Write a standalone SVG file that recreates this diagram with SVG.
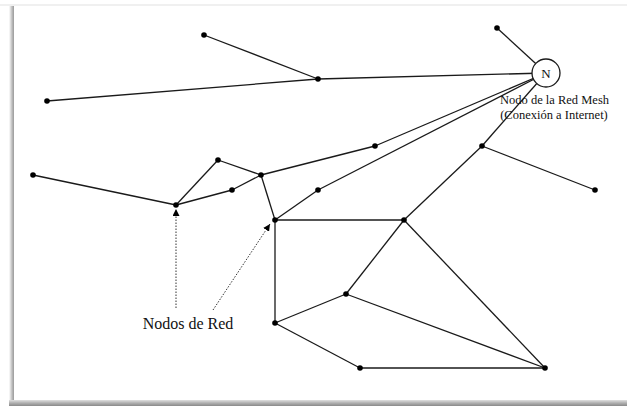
<svg xmlns="http://www.w3.org/2000/svg" width="627" height="406" viewBox="0 0 627 406">
<style>
.e{stroke:#1a1a1a;stroke-width:1.3;fill:none}
.n{fill:#000}
.t{font-family:"Liberation Serif","Times New Roman",serif;fill:#111}
.d{stroke:#333;stroke-width:1;stroke-dasharray:1.5 1.5;fill:none}
</style>
<defs>
<marker id="ah" viewBox="0 0 10 10" refX="10" refY="5" markerWidth="7" markerHeight="7" markerUnits="userSpaceOnUse" orient="auto">
<path d="M0,0 L10,5 L0,10 z" fill="#000"/>
</marker>
<linearGradient id="sl" x1="0" x2="1" y1="0" y2="0">
<stop offset="0" stop-color="#fff"/><stop offset="0.6" stop-color="#bdbdbd"/><stop offset="1" stop-color="#9a9a9a"/>
</linearGradient>
<linearGradient id="sb" x1="0" x2="0" y1="0" y2="1">
<stop offset="0" stop-color="#e0e0e0"/><stop offset="0.5" stop-color="#b0b0b0"/><stop offset="1" stop-color="#8a8a8a"/>
</linearGradient>
</defs>
<rect x="0" y="0" width="627" height="406" fill="#fff"/>
<g id="frame">
<rect x="0" y="4" width="627" height="2" fill="#f0f0f0"/>
<rect x="9" y="6" width="5" height="400" fill="url(#sl)"/>
<rect x="9" y="400" width="618" height="6" fill="url(#sb)"/>
<rect x="14" y="6" width="613" height="394" fill="#fff"/>
</g>
<g id="connectors">
<line class="e" x1="204" y1="35" x2="318" y2="79"/>
<line class="e" x1="47" y1="101" x2="318" y2="79"/>
<line class="e" x1="318" y1="79" x2="546" y2="73"/>
<line class="e" x1="497" y1="28" x2="546" y2="73"/>
<line class="e" x1="33" y1="175" x2="176" y2="205"/>
<line class="e" x1="176" y1="205" x2="218" y2="160"/>
<line class="e" x1="218" y1="160" x2="261" y2="175"/>
<line class="e" x1="176" y1="205" x2="232" y2="190"/>
<line class="e" x1="232" y1="190" x2="261" y2="175"/>
<line class="e" x1="261" y1="175" x2="375" y2="146"/>
<line class="e" x1="375" y1="146" x2="546" y2="73"/>
<line class="e" x1="261" y1="175" x2="275" y2="220"/>
<line class="e" x1="275" y1="220" x2="318" y2="190"/>
<line class="e" x1="318" y1="190" x2="546" y2="73"/>
<line class="e" x1="275" y1="220" x2="404" y2="220"/>
<line class="e" x1="275" y1="220" x2="275" y2="323"/>
<line class="e" x1="404" y1="220" x2="482" y2="146"/>
<line class="e" x1="482" y1="146" x2="546" y2="73"/>
<line class="e" x1="482" y1="146" x2="595" y2="190"/>
<line class="e" x1="404" y1="220" x2="346" y2="294"/>
<line class="e" x1="404" y1="220" x2="545" y2="368"/>
<line class="e" x1="275" y1="323" x2="346" y2="294"/>
<line class="e" x1="346" y1="294" x2="545" y2="368"/>
<line class="e" x1="275" y1="323" x2="360" y2="368"/>
<line class="e" x1="360" y1="368" x2="545" y2="368"/>
<line class="d" x1="176" y1="308" x2="176" y2="209" marker-end="url(#ah)"/>
<line class="d" x1="213" y1="310" x2="270" y2="224" marker-end="url(#ah)"/>
</g>
<g id="nodes">
<circle class="n" cx="204" cy="35" r="2.8"/>
<circle class="n" cx="318" cy="79" r="2.8"/>
<circle class="n" cx="47" cy="101" r="2.8"/>
<circle class="n" cx="497" cy="28" r="2.8"/>
<circle class="n" cx="33" cy="175" r="2.8"/>
<circle class="n" cx="218" cy="160" r="2.8"/>
<circle class="n" cx="261" cy="175" r="2.8"/>
<circle class="n" cx="232" cy="190" r="2.8"/>
<circle class="n" cx="176" cy="205" r="2.8"/>
<circle class="n" cx="375" cy="146" r="2.8"/>
<circle class="n" cx="318" cy="190" r="2.8"/>
<circle class="n" cx="482" cy="146" r="2.8"/>
<circle class="n" cx="595" cy="190" r="2.8"/>
<circle class="n" cx="275" cy="220" r="2.8"/>
<circle class="n" cx="404" cy="220" r="2.8"/>
<circle class="n" cx="346" cy="294" r="2.8"/>
<circle class="n" cx="275" cy="323" r="2.8"/>
<circle class="n" cx="360" cy="368" r="2.8"/>
<circle class="n" cx="545" cy="368" r="2.8"/>
</g>
<g id="node-N">
<circle cx="546" cy="73" r="14" fill="#fff" stroke="#1a1a1a" stroke-width="1.3"/>
<text class="t" x="546" y="77.5" font-size="13" text-anchor="middle">N</text>
</g>
<g id="labels">
<text class="t" x="554.5" y="104" font-size="12.5" text-anchor="middle">Nodo de la Red Mesh</text>
<text class="t" x="554" y="119" font-size="12.5" text-anchor="middle">(Conexión a Internet)</text>
<text class="t" x="188" y="329" font-size="16" text-anchor="middle">Nodos de Red</text>
</g>
</svg>
